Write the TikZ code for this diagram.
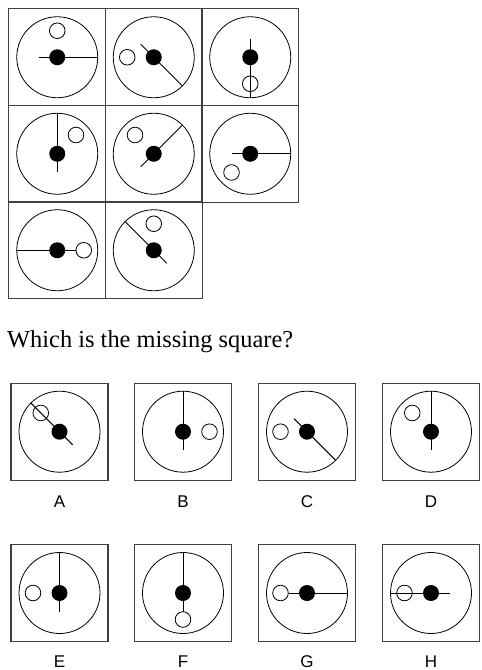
\documentclass[tikz,border=0pt]{standalone}
\usepackage{fontspec}
\newfontfamily\lettersf{Liberation Sans}
\newfontfamily\questionf{Liberation Serif}
\usepackage{tikz}
\usetikzlibrary{calc}

% one square of the puzzle: centre x, centre y, angle of the long spoke, angle of the ring
\newcommand{\puzzledial}[4]{%
    \draw[frame] ($(#1,#2)+(-48.5,-48.5)$) rectangle ($(#1,#2)+(48.5,48.5)$);
    \draw[rim] (#1,#2) circle (40.5pt);
    \draw[spoke] ($(#1,#2)+(#3:40.5)$) -- ($(#1,#2)+(#3+180:18.5)$);
    \fill[dot] (#1,#2) circle (8pt);
    \draw[ring] ($(#1,#2)+(#4:26.5)$) circle (7.8pt);
}

\begin{document}
\begin{tikzpicture}[
    x=1pt, y=1pt,
    frame/.style={draw=black!75, line width=1.2pt},
    rim/.style={draw=black, line width=0.8pt},
    spoke/.style={draw=black, line width=1pt},
    dot/.style={fill=black},
    ring/.style={draw=black, line width=0.8pt},
    question/.style={font=\questionf\fontsize{24.4}{29}\selectfont, inner sep=0pt},
    choice/.style={font=\lettersf\fontsize{17}{20}\selectfont, inner sep=0pt, anchor=base}
]
\useasboundingbox (0,0) rectangle (482,-670);

% the grid
\foreach \cx/\cy/\lng/\wht in {
    57.25/-57.25/0/90, 153.75/-57.25/-45/180, 250.25/-57.25/270/270,
    57.25/-153.75/90/45, 153.75/-153.75/45/135, 250.25/-153.75/0/225,
    57.25/-250.25/180/0, 153.75/-250.25/135/90}
    {\puzzledial{\cx}{\cy}{\lng}{\wht}}

\node[question, anchor=base west] (question) at (7,-347) {Which is the missing square?};

% the answers
\foreach \cx/\cy/\lng/\wht in {
    59.5/-431.7/135/135, 183/-431.7/90/0, 307/-431.7/-45/180, 431/-431.7/90/135,
    59.5/-593/90/180, 183/-593/90/270, 307/-593/0/180, 431/-593/180/180}
    {\puzzledial{\cx}{\cy}{\lng}{\wht}}

\node[choice] (labA) at (59.5,-507) {A};
\node[choice] (labB) at (183,-507) {B};
\node[choice] (labC) at (307,-507) {C};
\node[choice] (labD) at (431,-507) {D};
\node[choice] (labE) at (59.5,-667) {E};
\node[choice] (labF) at (183,-667) {F};
\node[choice] (labG) at (307,-667) {G};
\node[choice] (labH) at (431,-667) {H};

\end{tikzpicture}
\end{document}
